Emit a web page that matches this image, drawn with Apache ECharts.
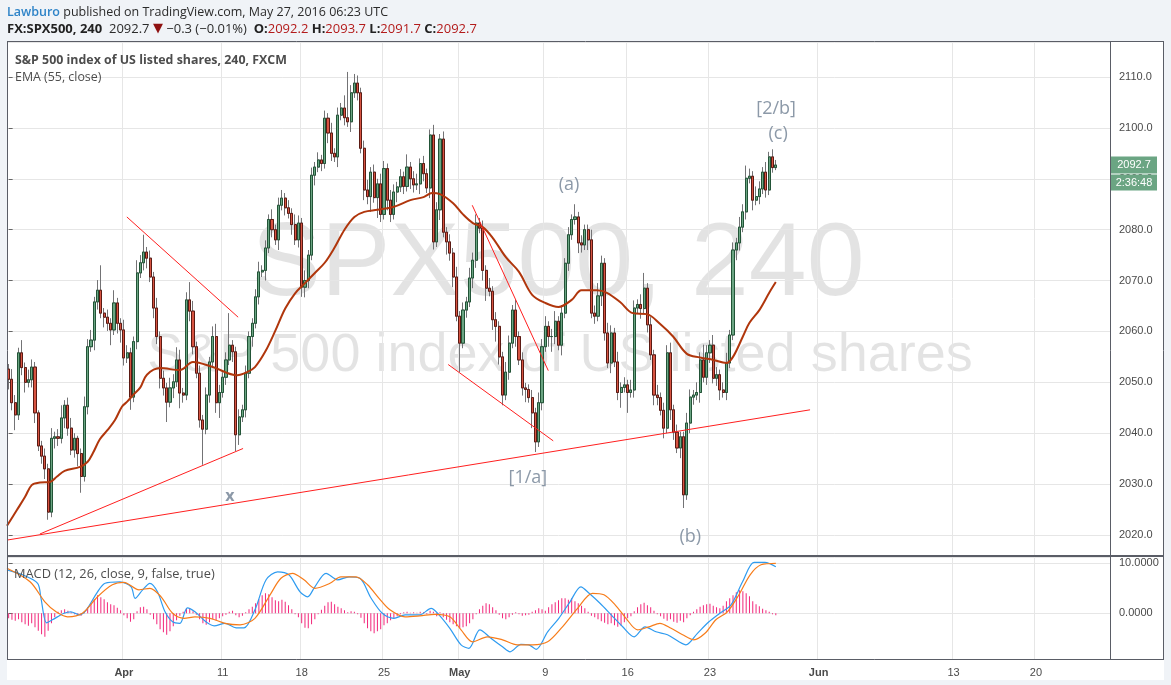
<!DOCTYPE html>
<html><head><meta charset="utf-8">
<script src="https://cdn.jsdelivr.net/npm/echarts@6/dist/echarts.min.js"></script>
<style>html,body{margin:0;padding:0;background:#f0f3f7;}#c{width:1171px;height:685px;}</style>
</head><body><div id="c"></div>
<script>
// ---------- DATA ----------
const SLOTS = 335;              // bar slots across the time axis (incl. future space)
const firstOpen = 2052.6;
const closes = [
2050.6,2046,2043.6,2055.8,2052.9,2050,2050.5,2053,2044,2037.5,2035.5,2033,2024.5,
2039,2039.3,2039,2043,2045.5,2041,2036.7,2039,2036,2031.5,
2045.2,2057,2058.3,2065.8,2068.1,2063.6,2062.8,2061.6,2060.3,2065.6,2061.6,2060.3,2054.8,2055.8,2047.1,
2058,2071.5,2073.5,2075.6,2074.4,2070.7,2064.6,2059,2050.8,2048.9,2046.1,2048.9,2050.1,2054.4,2047.9,2047.5,
2066.2,2064,2057,2051.8,2042.6,2040.8,2047.5,2054,2059,2046,2048,2051,2054.4,2057.3,2056,
2039.7,2043.2,2044.6,2051.8,2059,2061.6,2066.8,2071.7,2072,2076.4,2082,2080,2078,2084.8,2086.2,2084.3,2083.2,2081,2078,2081.3,
2068.7,2070,2075,2090.7,2092.3,2093.7,2093,2101.9,2099,2095,2094.3,2102.5,2103.9,2102,2101.2,2106.9,2108.8,2106.9,
2096,2087.8,2086.5,2091.3,2086.3,2089,2083,2092,2085.8,2083,2087.4,2088.4,2090.4,2088.5,2092.3,2090,2088.8,2089,2093,2091,2088.2,2098.6,2077.6,
2083.9,2097.8,2079.5,2077.6,2075.4,2070.7,2063,2057.7,2064.2,2065.8,2070.5,2074,2081.3,2080.3,2072,2068.5,2067.9,2062.3,2061,2055,2047.5,
2052,2057.7,2064.2,2059,2054.4,2048.9,2048.6,2047,2044,2038.3,2046,2057,2061,2059,2059,2062,2057.3,2063.6,
2073.4,2079,2082,2082.5,2077.4,2077,2080,2078,2063.6,2063,2067,2073.4,2059.7,2053.8,2059.7,2054,2048,2049,2049.5,2048,2048.5,
2064.6,2065.3,2064.5,2068.5,2061.3,2055.4,2047.5,2047,2044.5,2041,2055.8,2044.6,2040.2,2037.1,2039.3,2027.9,2042,2047.1,2047.5,2048,
2054.4,2051,2055.8,2057.3,2050.8,2051.5,2048.5,2048,2053.8,2059.3,2076,2077.4,2080.5,2083.5,2090.1,2090.5,2085.8,2086.5,2088,2091.3,2087.8,2094.3,2092.2,2092.7
];
const wickUp = [
1,2,1.5,1,2.5,1,2,1.5,1,0.5,1,1.5,1,2,1,1.5,2.5,1,1.5,2,
1,0.5,1,2,1.5,2,1,2,4.9,1,1.5,1,2.5,1,1,2,1.5,1,1,2.5,
1.5,3.4,1,1.5,1,2,1,1.5,1,2,1.5,2.5,2,1,1.5,3.5,2,1,1.5,1,
1.5,1,2,2.5,1.5,1,1.5,6.3,1,1,1.5,1,1.5,1,1,1.5,2,1,1.5,1,
2,1,1.5,1.6,1,1.5,1,2,1.5,1,2,1,1.5,1,1.5,1,1.5,1,2,1,
1.5,1,2.5,9,1.5,1.8,1.5,1,1.5,2,1,1.5,1,2,1.5,1,2,1.5,1,1.5,
1,2.5,1,1.5,2,1,1.5,1,1.1,2,1.5,1,1.5,1,1.5,1,2,1,1.5,1,
2,1.5,1.7,1,1.5,1,2,1,1.5,1,1,2,1.5,1,2,1,1.5,1,1,1.5,
1,2,1.5,2,1,1.5,2,1,1.5,1,1.5,1,2.5,1,1.5,1,1,2,1.5,2.5,
1.5,1,2,1.5,1,2,1,1.5,1,2,1.5,1,2,3,1,1.5,1,2,1,1.5,
1.5,2,1,1.5,1,1,2,1.5,1,2,1.5,3,1.5,1,2,1.5,1,1.5,2,1,
1.5,1,2,1.5,2.5,1.5,1,2,1.5,1,2,1,1.5,1
];
const wickDn = [
2,1.5,3,1,1.5,2,1,1.5,2,1,1.5,2,1.5,1,2,1.5,1,2,1.5,1,
1.5,2.5,3.2,1,1.5,1,2,1.5,1,2,1.5,3,1,2,2.5,1.5,1,2.5,1,1.5,
1,1.5,2,1,2,1.5,2,1.5,3.9,1,2,1,3,1.5,1,2,1.5,1,1.5,7,
1,1.5,1,2,3,1,1.5,1,2,3.2,2,1,1.5,1,2,1,1.5,1,2,1,
1.5,1,2,1,1.5,1,2,1,1.5,1.9,2,1.5,1,2,1,1.5,1,2,1.5,1,
2,1,1.5,1,2,1,1.5,1,2,1.5,3,1,4,1.5,1,2,1.5,1,2,1,
1.5,1,2,1.5,1,2,1.5,1,2,1.5,1,2,1,2.5,1.5,2,1,5.7,1,1.5,
1,2,1.5,1,2,2.5,1,2,3,1.5,2,1,1.5,1,2,1,1.5,2.5,1,3,
2,1,1.5,1,2,3,1.5,1,2,1,1.5,1,1,2,1.5,1,2,1,1.5,1,
2,1.5,1,2,1,1.5,3,1,4,1,1.5,1,2,1,1.5,1,2,1.5,1,2,
1,2,1.5,1,2,2.6,1,2,1.5,1,2,1,1.5,2,1,1.5,2,1,1.5,1,
1,2,1.5,1,1.5,1,2,1,1.5,1,1.5,1,1,0.5
];
// EMA(55): [bar position, price]
const emaPts = [[-0.5,2021.8],[2.5,2024.9],[5,2027.5],[7,2029.8],[9.5,2030.3],[12.5,2030.4],[14.7,2031.5],[17,2032.6],[21.7,2033.4],[24,2034.4],[25.6,2036.1],[27.7,2038.8],[30,2040.6],[32.3,2042.6],[34.4,2045.2],[36,2046.2],[37.8,2047.5],[40,2049],[42,2051.5],[46,2052.8],[52,2052.4],[56,2054],[62,2053],[69.4,2051.4],[72.4,2052],[74.8,2053],[77.9,2056],[80.9,2060],[84,2064.5],[87,2067.5],[90,2069.5],[93,2071.5],[96,2073.5],[99,2076.5],[102,2080],[105,2082.5],[108,2083.5],[112,2083.9],[117,2084.5],[122,2085.8],[126,2086.4],[128.6,2087.2],[131,2087],[135,2085.2],[138,2083],[141,2081.3],[144,2080.5],[147,2078.4],[151,2074.6],[155,2071.7],[159,2067.2],[163,2065.6],[167,2064.8],[171,2066.2],[174,2068.1],[178.7,2068.1],[181.7,2067.6],[185.7,2065.8],[189.6,2063.6],[193.9,2063.4],[197.8,2061.5],[201.8,2059],[206,2055.6],[210,2054.9],[214,2054.4],[218,2053.8],[220,2055],[223,2059],[225,2061.7],[228,2064.2],[231,2067.6],[233,2069.7]];
// MACD panel
const macdPts = [[-0.5,8.7],[4.2,7.7],[8.8,6.0],[9.8,3.1],[11.5,-1.9],[13.3,-1.3],[16.8,0],[18.9,0.3],[21.4,-0.3],[23.5,0.6],[27,4.3],[29.3,6.0],[33.8,6.3],[37.2,5.3],[38.4,3.0],[40.7,4.7],[42.9,6.0],[45.2,4.3],[47.5,0.3],[49.8,-1.7],[52,-2.0],[54.3,1.1],[56.6,0.3],[59.9,-1.7],[62.4,-2.5],[65.7,-2.0],[69.1,-2.9],[71.5,-2.9],[74.8,0.7],[78.2,6.7],[81.7,8.3],[85.1,7.7],[88.5,4.3],[90.8,3.3],[93,5.3],[96.4,8.0],[99.9,6.7],[103.4,7.3],[106.7,7.0],[110.1,3.0],[113.5,0],[117,-1.0],[120.4,-0.3],[124.9,-0.3],[128.3,1.0],[130.7,-0.3],[134,-3.0],[137.4,-6.3],[139.8,-7.0],[143.1,-3.3],[146.5,-5.0],[150,-6.7],[152.3,-7.7],[155.6,-6.2],[158,-6.3],[160.2,-7.2],[163.7,-3.7],[167.1,-1.0],[170.5,2.3],[173.8,5.3],[176.3,4.0],[179.6,2.0],[183,-0.3],[186.5,-2.7],[190,-4.7],[193.3,-2.7],[196.6,-3.7],[200.1,-4.3],[203.6,-5.7],[205.7,-6.3],[209.2,-4.0],[212.7,-1.7],[216,0],[219.4,1.7],[222.9,6.3],[226.4,10.2],[229.7,10.2],[233,9.3]];
const signalPts = [[-0.5,9.0],[6.5,6.3],[11,2.3],[14.4,0.3],[17.9,-0.7],[22.4,0],[27,3.3],[31.5,5.7],[35,6.2],[39.6,4.7],[42.9,5.0],[46.3,3.3],[49.8,0],[53.3,-1.0],[56.6,-0.7],[61.2,-1.0],[65.7,-2.0],[70.3,-2.3],[74.8,-1.0],[79.4,3.7],[82.7,7.0],[86.2,8.0],[89.7,6.7],[93,5.0],[97.6,6.0],[100.9,7.3],[105.5,7.3],[109,5.7],[112.5,3.0],[115.8,0.7],[120.4,-0.7],[124.9,-0.5],[129.5,-0.2],[134,-0.7],[137.4,-3.3],[140.9,-5.7],[145.4,-4.7],[150,-5.3],[154.5,-6.3],[159.1,-6.3],[163.7,-5.7],[168.2,-2.7],[172.8,1.0],[177.3,4.0],[180.8,3.7],[184.2,1.7],[187.5,-1.0],[191,-3.3],[194.5,-2.7],[197.8,-2.0],[201.2,-3.0],[204.7,-4.3],[208.1,-5.3],[211.5,-4.0],[214.8,-1.3],[218.3,0.3],[221.8,3.7],[225.2,7.7],[228.5,9.7],[233,10.0]];
const hist = [
-1.0,-1.3,-1.5,-1.2,-1.8,-2.2,-2.5,-2.0,-2.8,-3.5,-4.2,-4.7,-3.5,-2.0,-0.8,0.3,0.6,0.8,0.5,0.2,
-0.2,-0.4,-0.5,0.3,1.2,2.0,2.8,3.6,3.2,2.8,2.2,1.8,1.6,1.1,0.6,-0.4,-1.0,-1.7,-1.2,0.4,
1.2,1.3,0.8,-0.3,-1.2,-2.2,-3.2,-3.8,-4.3,-3.6,-2.6,-1.4,-0.5,0.3,1.0,0.9,0.4,-0.3,-1.2,-2.0,
-2.3,-1.8,-1.2,-1.4,-1.0,-0.6,-0.3,0.3,0.5,-0.4,-0.8,-0.5,0.2,0.8,1.3,2.0,2.8,3.6,4.0,3.8,
3.2,2.6,2.4,2.7,2.3,1.6,0.8,-0.2,-0.8,-2.0,-2.9,-3.0,-2.2,-1.2,-0.2,0.7,1.5,2.2,2.3,1.8,
1.3,1.0,0.6,0.2,0.4,0.3,-0.2,-0.9,-2.0,-3.0,-3.6,-4.0,-3.6,-3.2,-2.4,-2.0,-1.4,-1.0,-0.6,-0.2,
0.2,0.3,0.1,0.2,0.1,0.3,0.2,-0.2,0.5,0.3,-0.6,0.2,-0.8,-1.3,-1.8,-2.2,-2.6,-3.0,-2.8,-2.6,
-2.0,-1.2,-0.2,0.8,1.5,2.0,1.8,1.2,0.6,-0.3,-1.0,-1.2,-0.8,-0.3,0.2,-0.2,-0.5,-0.4,-0.3,0.3,
0.6,1.0,0.8,0.5,1.2,1.8,2.2,2.6,3.0,3.0,2.7,3.0,2.4,2.0,1.5,1.0,0.3,-0.5,-0.8,-1.2,
-1.6,-1.9,-2.2,-2.0,-2.4,-2.7,-2.5,-1.8,-1.0,-0.6,0.4,1.2,1.8,2.1,1.6,1.2,0.5,-0.2,-0.6,-1.1,
-1.5,-1.2,-1.7,-1.9,-1.5,-1.8,-1.0,-0.4,0.3,0.8,1.3,1.6,1.8,1.9,1.5,1.2,1.0,1.5,2.4,3.0,
3.6,4.2,4.6,4.4,4.0,3.4,2.4,1.8,1.4,0.9,0.6,0.3,-0.2,-0.4
];
// time-axis labels: [slot, text, isMonth]
const dateTicks = [[35,'Apr',1],[65,'11',0],[89,'18',0],[114,'25',0],[137,'May',1],[163,'9',0],[188,'16',0],[213,'23',0],[246,'Jun',1],[287,'13',0],[312,'20',0]];
// drawn trend lines: [[slot, price],[slot, price]]
const trendLines = [
  [[-0.5,2019.0],[243.4,2044.6]],
  [[9.5,2020.2],[71.2,2037.0]],
  [[35.9,2082.5],[69.7,2062.8]],
  [[140.8,2084.8],[163.9,2052.3]],
  [[133.5,2053.5],[165.4,2038.5]]
];
// wave labels: [text, slot, price]
const notes = [['(a)',170.2,2088.8],['[1/a]',157.7,2031.2],['(b)',207,2019.6],['[2/b]',233.1,2103.7],['(c)',233.7,2098.8]];
const xMark = ['x',67.2,2027.5];
const lastPrice = 2092.7, timerText = '2:36:48';

// ---------- BUILD ----------
const cats = Array.from({length: SLOTS}, (_, i) => 'b' + i);
const tickMap = {};
dateTicks.forEach(d => tickMap[d[0]] = d);
const opens = closes.map((c, i) => i === 0 ? firstOpen : closes[i - 1]);
const wickData = closes.map((c, i) => {
  const o = opens[i];
  return [o, c, Math.min(o, c) - wickDn[i], Math.max(o, c) + wickUp[i]];
});
const bodyData = closes.map((c, i) => {
  const o = opens[i];
  return [o, c, Math.min(o, c), Math.max(o, c)];
});

const AX_FONT = "'Liberation Sans', Arial, sans-serif";
const TXT_FONT = "'Open Sans', 'DejaVu Sans', sans-serif";
const GRID_COLOR = '#e6e6e6';
const L = 7, W = 1103, MT = 42, MH = 513, BT = 557, BH = 102;

const chart = echarts.init(document.getElementById('c'));
const option = {
  backgroundColor: '#f0f3f7',
  animation: false,
  grid: [
    {left: L, top: MT, width: W, height: MH, containLabel: false},
    {left: L, top: BT, width: W, height: BH, containLabel: false}
  ],
  xAxis: [
    {type: 'category', gridIndex: 0, data: cats, boundaryGap: true,
     axisLine: {show: false}, axisTick: {show: false}, axisLabel: {show: false},
     splitLine: {show: true, interval: (i) => tickMap[i] !== undefined, lineStyle: {color: GRID_COLOR}}},
    {type: 'value', gridIndex: 0, min: -0.5, max: SLOTS - 0.5, show: false},
    {type: 'category', gridIndex: 1, data: cats, boundaryGap: true,
     axisLine: {show: false}, axisTick: {show: false},
     axisLabel: {show: true, interval: (i) => tickMap[i] !== undefined, margin: 8,
       color: '#4a4a4a', fontSize: 11, fontFamily: AX_FONT,
       formatter: (v, i) => { const d = tickMap[i]; if (!d) return ''; return d[2] ? '{m|' + d[1] + '}' : d[1]; },
       rich: {m: {fontWeight: 'bold', fontSize: 11, color: '#4a4a4a', fontFamily: AX_FONT}}},
     splitLine: {show: true, interval: (i) => tickMap[i] !== undefined, lineStyle: {color: GRID_COLOR}}},
    {type: 'value', gridIndex: 1, min: -0.5, max: SLOTS - 0.5, show: false}
  ],
  yAxis: [
    {type: 'value', gridIndex: 0, position: 'right', min: 2016.07, max: 2116.88,
     splitNumber: 10, minInterval: 10, maxInterval: 10, scale: true,
     axisLine: {show: false}, axisTick: {show: true, length: 4, lineStyle: {color: '#666'}},
     axisLabel: {color: '#4a4a4a', fontSize: 11, fontFamily: AX_FONT, margin: 9,
       showMinLabel: false, showMaxLabel: false, formatter: v => v.toFixed(1)},
     splitLine: {lineStyle: {color: GRID_COLOR}}},
    {type: 'value', gridIndex: 1, position: 'right', min: -9.14, max: 11.26,
     splitNumber: 2, minInterval: 10, maxInterval: 10,
     axisLine: {show: false}, axisTick: {show: true, length: 4, lineStyle: {color: '#666'}},
     axisLabel: {color: '#4a4a4a', fontSize: 11, fontFamily: AX_FONT, margin: 9,
       showMinLabel: false, showMaxLabel: false, formatter: v => v.toFixed(4)},
     splitLine: {lineStyle: {color: GRID_COLOR}}}
  ],
  series: [
    {name: 'wicks', type: 'candlestick', xAxisIndex: 0, yAxisIndex: 0, data: wickData, barWidth: 2.6, z: 3,
     itemStyle: {color: 'rgba(0,0,0,0)', color0: 'rgba(0,0,0,0)', borderColor: '#737375', borderColor0: '#737375', borderWidth: 1}},
    {name: 'bodies', type: 'candlestick', xAxisIndex: 0, yAxisIndex: 0, data: bodyData, barWidth: 2.6, z: 4,
     itemStyle: {color: '#6ba583', color0: '#d75442', borderColor: '#225437', borderColor0: '#5b1a13', borderWidth: 1}},
    {name: 'EMA', type: 'line', xAxisIndex: 1, yAxisIndex: 0, data: emaPts, smooth: 0.35, symbol: 'none', z: 5,
     lineStyle: {color: '#b0360c', width: 2}},
    ...trendLines.map((t, k) => ({name: 'tl' + k, type: 'line', xAxisIndex: 1, yAxisIndex: 0, data: t, symbol: 'none', z: 6,
     lineStyle: {color: '#ff1f1f', width: 1}})),
    {name: 'notes', type: 'scatter', xAxisIndex: 1, yAxisIndex: 0, z: 7, symbolSize: 1,
     itemStyle: {color: 'rgba(0,0,0,0)'},
     data: notes.map(n => ({value: [n[1], n[2]], name: n[0]})),
     label: {show: true, position: 'inside', formatter: p => p.name, color: '#6f8092', fontSize: 18, fontFamily: TXT_FONT}},
    {name: 'xmark', type: 'scatter', xAxisIndex: 1, yAxisIndex: 0, z: 7, symbolSize: 1,
     itemStyle: {color: 'rgba(0,0,0,0)'},
     data: [{value: [xMark[1], xMark[2]], name: xMark[0]}],
     label: {show: true, position: 'inside', formatter: p => p.name, color: '#6f8092', fontSize: 16, fontWeight: 'bold', fontFamily: TXT_FONT}},
    {name: 'hist', type: 'bar', xAxisIndex: 2, yAxisIndex: 1, data: hist, barWidth: 1, z: 3,
     itemStyle: {color: '#f2267a'}},
    {name: 'macd', type: 'line', xAxisIndex: 3, yAxisIndex: 1, data: macdPts, smooth: 0.3, symbol: 'none', z: 5,
     lineStyle: {color: '#2e9bf0', width: 1.2}},
    {name: 'signal', type: 'line', xAxisIndex: 3, yAxisIndex: 1, data: signalPts, smooth: 0.3, symbol: 'none', z: 5,
     lineStyle: {color: '#f77c1a', width: 1.2}}
  ]
};
chart.setOption(option);

const py = chart.convertToPixel({yAxisIndex: 0}, lastPrice);
const border = '#5a5d66';
chart.setOption({
  graphic: [
    {type: 'rect', z: -100, shape: {x: 7, y: 41, width: 1157, height: 639}, style: {fill: '#ffffff'}},
    // watermark
    {type: 'text', z: -50, x: 558, y: 266, style: {text: 'SPX500, 240', fill: 'rgba(0,0,0,0.11)', font: "104px 'Liberation Sans', Arial, sans-serif", textAlign: 'center', textVerticalAlign: 'middle'}},
    {type: 'text', z: -50, x: 560, y: 356, style: {text: 'S&P 500 index of US listed shares', fill: 'rgba(0,0,0,0.11)', font: "54px 'Liberation Sans', Arial, sans-serif", textAlign: 'center', textVerticalAlign: 'middle'}},
    // borders
    {type: 'line', z: 50, shape: {x1: 7, y1: 41.5, x2: 1164, y2: 41.5}, style: {stroke: border, lineWidth: 1}},
    {type: 'line', z: 50, shape: {x1: 7.5, y1: 41, x2: 7.5, y2: 660}, style: {stroke: border, lineWidth: 1}},
    {type: 'line', z: 50, shape: {x1: 1163.5, y1: 41, x2: 1163.5, y2: 660}, style: {stroke: border, lineWidth: 1}},
    {type: 'line', z: 50, shape: {x1: 1110.5, y1: 41, x2: 1110.5, y2: 660}, style: {stroke: border, lineWidth: 1}},
    {type: 'line', z: 50, shape: {x1: 7, y1: 556, x2: 1164, y2: 556}, style: {stroke: border, lineWidth: 2}},
    {type: 'line', z: 50, shape: {x1: 7, y1: 659.5, x2: 1164, y2: 659.5}, style: {stroke: border, lineWidth: 1}},
    // header
    {type: 'text', z: 60, x: 7, y: 12, style: {
      text: '{a|Lawburo}{b| published on TradingView.com, May 27, 2016 06:23 UTC}', textVerticalAlign: 'middle',
      rich: {a: {fill: '#2f84c8', font: "600 12.5px 'Open Sans', sans-serif"}, b: {fill: '#2b2b2b', font: "12.5px 'Open Sans', sans-serif"}}}},
    {type: 'text', z: 60, x: 7, y: 29, style: {
      text: '{k|FX:SPX500, 240}{v|  2092.7 }{t|▼}{v| −0.3 (−0.01%)  }{k|O:}{r|2092.2 }{k|H:}{r|2093.7 }{k|L:}{r|2091.7 }{k|C:}{r|2092.7}',
      textVerticalAlign: 'middle',
      rich: {k: {fill: '#222', font: "bold 13px 'Open Sans', sans-serif"}, v: {fill: '#2b2b2b', font: "13px 'Open Sans', sans-serif"},
             t: {fill: '#8e1010', font: "13px 'DejaVu Sans', sans-serif"}, r: {fill: '#b31b1b', font: "13px 'Open Sans', sans-serif"}}}},
    // panel legends
    {type: 'text', z: 60, x: 15, y: 60, style: {text: 'S&P 500 index of US listed shares, 240, FXCM', fill: '#4d4d4d', font: "bold 12.4px 'Open Sans', sans-serif", textVerticalAlign: 'middle'}},
    {type: 'text', z: 60, x: 15, y: 77, style: {text: 'EMA (55, close)', fill: '#4d4d4d', font: "12.4px 'Open Sans', sans-serif", textVerticalAlign: 'middle'}},
    {type: 'text', z: 60, x: 14, y: 574, style: {text: 'MACD (12, 26, close, 9, false, true)', fill: '#4d4d4d', font: "12.8px 'Open Sans', sans-serif", textVerticalAlign: 'middle'}},
    // last price + timer
    {type: 'rect', z: 60, shape: {x: 1111, y: Math.round(py) - 8.5, width: 46, height: 17}, style: {fill: '#6ba583'}},
    {type: 'text', z: 61, x: 1134, y: Math.round(py), style: {text: lastPrice.toFixed(1), fill: '#fff', font: "11px 'Liberation Sans', Arial, sans-serif", textAlign: 'center', textVerticalAlign: 'middle'}},
    {type: 'rect', z: 60, shape: {x: 1111, y: Math.round(py) + 9.5, width: 46, height: 16}, style: {fill: '#6ba583'}},
    {type: 'text', z: 61, x: 1134, y: Math.round(py) + 17.5, style: {text: timerText, fill: '#fff', font: "11px 'Liberation Sans', Arial, sans-serif", textAlign: 'center', textVerticalAlign: 'middle'}}
  ]
});
</script>
</body></html>
